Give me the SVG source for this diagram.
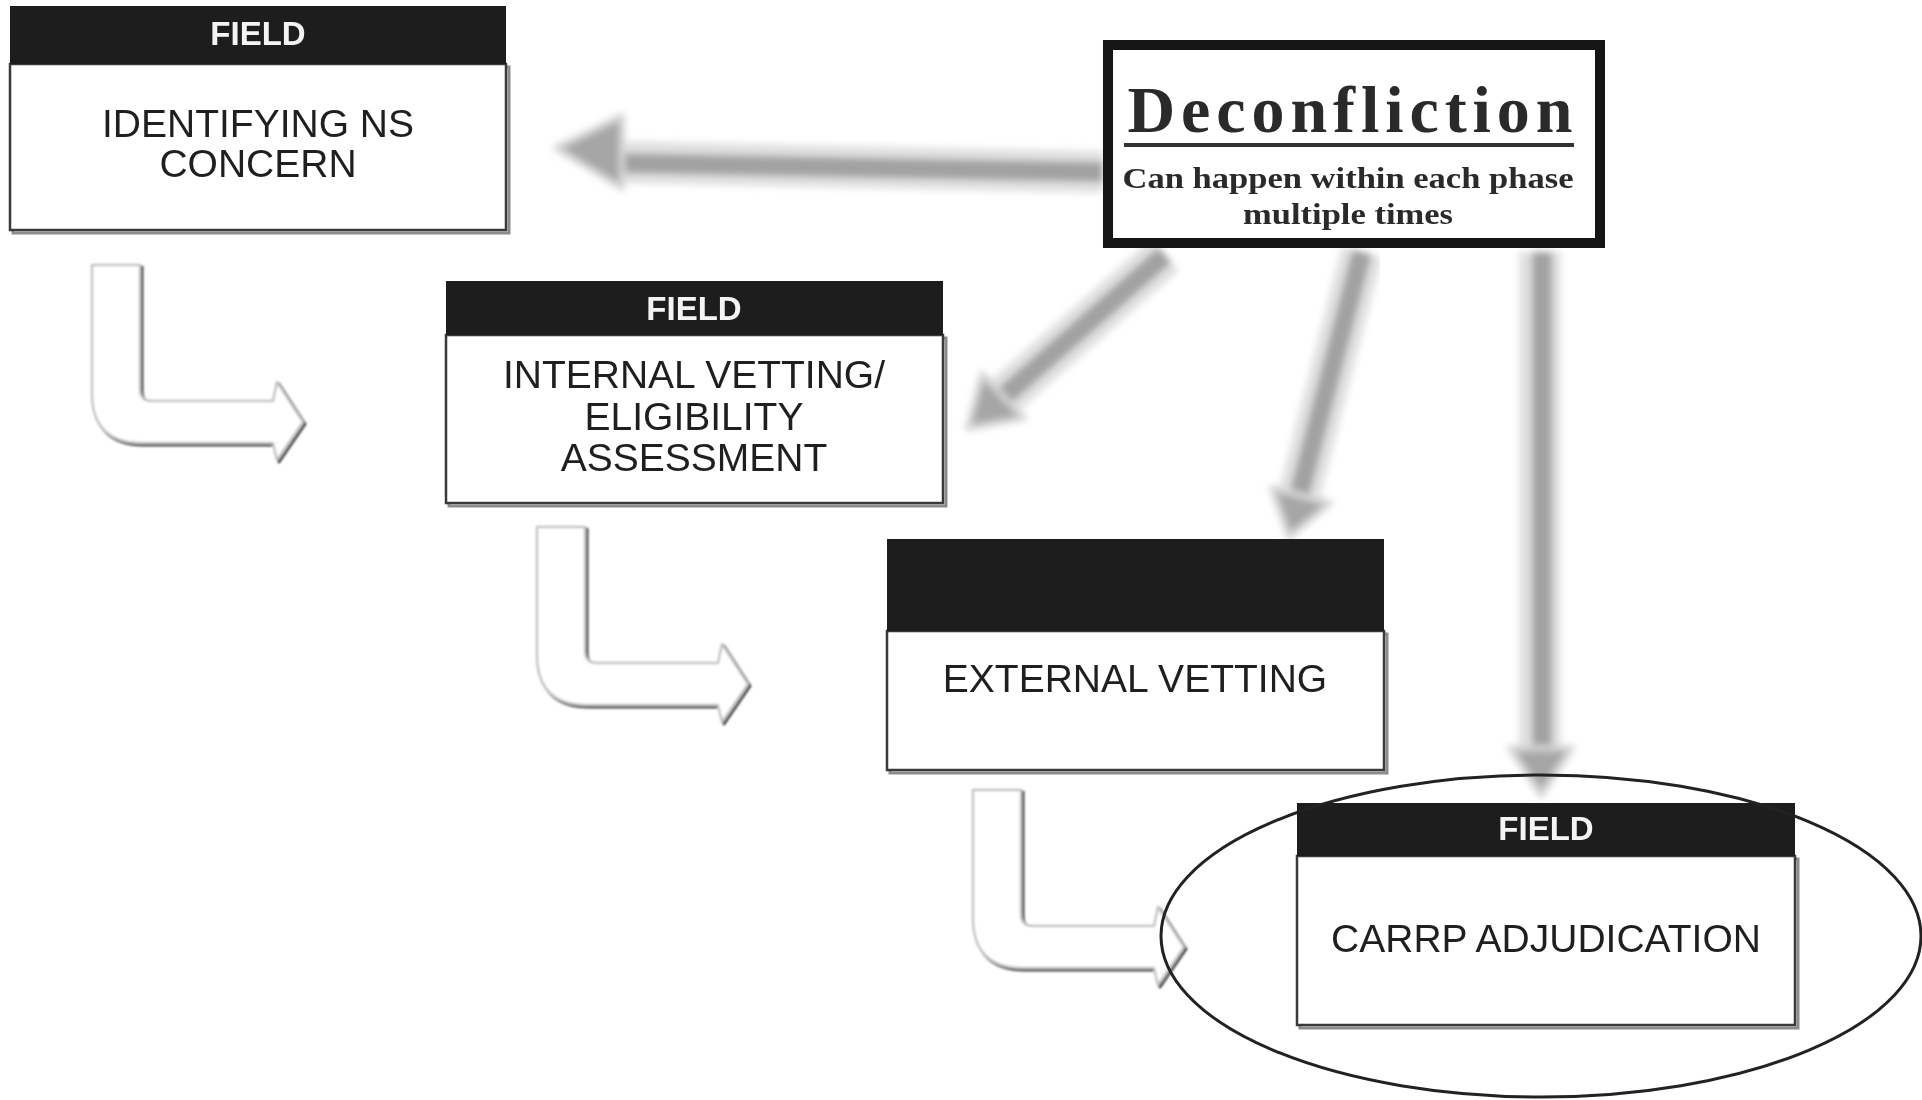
<svg xmlns="http://www.w3.org/2000/svg" width="1922" height="1100" viewBox="0 0 1922 1100">
  <style>
    .hdr { fill: #1d1d1d; }
    .body { fill: #ffffff; stroke: #3a3a3a; stroke-width: 2.5; }
    .shadow { fill: none; stroke: #8c8c8c; stroke-width: 3; }
    .field { font-family: "Liberation Sans", Arial, sans-serif; font-size: 33px; font-weight: bold; fill: #f4f4f4; text-anchor: middle; }
    .label { font-family: "Liberation Sans", Arial, sans-serif; font-size: 39px; fill: #1f1f1f; text-anchor: middle; }
    .serif { font-family: "Liberation Serif", "Times New Roman", serif; font-weight: bold; fill: #2a2a2a; text-anchor: middle; }
    .halo { stroke: #e0e0e0; stroke-linecap: butt; fill: none; }
    .core { stroke: #a2a2a2; stroke-linecap: butt; fill: none; }
    .head { fill: #a6a6a6; stroke: #d6d6d6; stroke-width: 6; stroke-linejoin: round; }
    .hook { fill: #ffffff; stroke: #c4c4c4; stroke-width: 2.5; stroke-linejoin: round; }
    .hookShadow { fill: none; stroke: #4a4a4a; stroke-width: 3; stroke-linejoin: round; }
  </style>
  <defs>
    <filter id="soft" x="-20%" y="-20%" width="140%" height="140%">
      <feGaussianBlur stdDeviation="3.5"/>
    </filter>
    <filter id="softer" x="-20%" y="-20%" width="140%" height="140%">
      <feGaussianBlur stdDeviation="1.2"/>
    </filter>
    <!-- outlined L-shaped hook arrow, local coordinates -->
    <path id="hookShape" d="M0,0 L48,0 L48,124 Q48,136 60,136 L181,136 L185,117 L211,157 L185,195 L181,178 L50,178 Q0,178 0,128 Z"/>
  </defs>

  <rect x="0" y="0" width="1922" height="1100" fill="#ffffff"/>

  <!-- connectors -->
  <g id="connectors">
    <!-- Deconfliction to Identifying NS Concern -->
    <g filter="url(#soft)">
      <line class="halo" x1="1103" y1="172" x2="618" y2="162" stroke-width="42"/>
      <line class="core" x1="1103" y1="172" x2="618" y2="163" stroke-width="20"/>
      <polygon class="head" points="556,148 622,116 622,188"/>
    </g>
    <!-- Deconfliction to Internal Vetting -->
    <g filter="url(#soft)">
      <line class="halo" x1="1165" y1="255" x2="1002" y2="398" stroke-width="42"/>
      <line class="core" x1="1165" y1="255" x2="1002" y2="398" stroke-width="20"/>
      <polygon class="head" points="968,428 1024,418 982,374"/>
    </g>
    <!-- Deconfliction to External Vetting -->
    <g filter="url(#soft)">
      <line class="halo" x1="1362" y1="252" x2="1300" y2="492" stroke-width="42"/>
      <line class="core" x1="1362" y1="252" x2="1300" y2="492" stroke-width="20"/>
      <polygon class="head" points="1289,537 1272,488 1330,503"/>
    </g>
    <!-- Deconfliction to CARRP Adjudication -->
    <g filter="url(#soft)">
      <line class="halo" x1="1540" y1="252" x2="1540" y2="748" stroke-width="42"/>
      <line class="core" x1="1542" y1="252" x2="1542" y2="748" stroke-width="20"/>
      <polygon class="head" points="1541,795 1510,748 1572,748"/>
    </g>

    <!-- phase-to-phase hook arrows -->
    <g filter="url(#softer)">
      <use href="#hookShape" class="hookShadow" transform="translate(94,267)"/>
      <use href="#hookShape" class="hook" transform="translate(92,265)"/>
      <use href="#hookShape" class="hookShadow" transform="translate(539,529)"/>
      <use href="#hookShape" class="hook" transform="translate(537,527)"/>
      <use href="#hookShape" class="hookShadow" transform="translate(975,792)"/>
      <use href="#hookShape" class="hook" transform="translate(973,790)"/>
    </g>
  </g>

  <!-- phase 1 -->
  <g id="identifying">
    <rect class="shadow" x="13" y="67" width="496" height="166"/>
    <rect class="body" x="10" y="64" width="496" height="166"/>
    <rect class="hdr" x="10" y="6" width="496" height="58"/>
    <text class="field" x="258" y="45">FIELD</text>
    <text class="label" x="258" y="137">IDENTIFYING NS</text>
    <text class="label" x="258" y="177">CONCERN</text>
  </g>

  <!-- phase 2 -->
  <g id="internal-vetting">
    <rect class="shadow" x="449" y="338" width="497" height="168"/>
    <rect class="body" x="446" y="335" width="497" height="168"/>
    <rect class="hdr" x="446" y="281" width="497" height="54"/>
    <text class="field" x="694" y="320">FIELD</text>
    <text class="label" x="694" y="388">INTERNAL VETTING/</text>
    <text class="label" x="694" y="430">ELIGIBILITY</text>
    <text class="label" x="694" y="471">ASSESSMENT</text>
  </g>

  <!-- phase 3 -->
  <g id="external-vetting">
    <rect class="shadow" x="890" y="634" width="497" height="139"/>
    <rect class="body" x="887" y="631" width="497" height="139"/>
    <rect class="hdr" x="887" y="539" width="497" height="92"/>
    <text class="label" x="1135" y="692">EXTERNAL VETTING</text>
  </g>

  <!-- phase 4 -->
  <g id="carrp-adjudication">
    <rect class="shadow" x="1300" y="859" width="498" height="169"/>
    <rect class="body" x="1297" y="856" width="498" height="169"/>
    <rect class="hdr" x="1297" y="803" width="498" height="53"/>
    <text class="field" x="1546" y="840">FIELD</text>
    <text class="label" x="1546" y="952">CARRP ADJUDICATION</text>
  </g>

  <!-- highlight ring round the final phase -->
  <g id="highlight">
    <ellipse cx="1541" cy="936" rx="380" ry="161" fill="none" stroke="#222222" stroke-width="3"/>
  </g>

  <!-- deconfliction note -->
  <g id="deconfliction">
    <rect x="1108" y="45" width="492" height="198" fill="#ffffff" stroke="#151515" stroke-width="10"/>
    <text class="serif" x="1350" y="132" font-size="66" textLength="445" lengthAdjust="spacing">Deconfliction</text>
    <line x1="1124" y1="145" x2="1574" y2="145" stroke="#333333" stroke-width="4"/>
    <text class="serif" x="1348" y="188" font-size="30" textLength="451" lengthAdjust="spacingAndGlyphs">Can happen within each phase</text>
    <text class="serif" x="1348" y="224" font-size="30" textLength="210" lengthAdjust="spacingAndGlyphs">multiple times</text>
  </g>
</svg>
